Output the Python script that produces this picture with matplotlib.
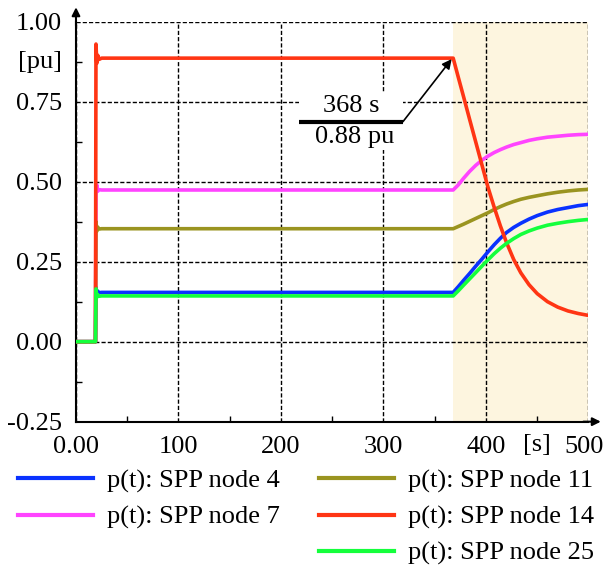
import matplotlib
matplotlib.use("Agg")
import matplotlib.pyplot as plt
from matplotlib.lines import Line2D
from matplotlib.patches import Rectangle
from matplotlib.transforms import ScaledTranslation

plt.rcParams['font.family'] = ['Liberation Serif', 'DejaVu Serif']
plt.rcParams['font.size'] = 19

# time points [s]: start-up transient, then the run-down after 368 s
t_start = [0, 19, 19.5, 20.3, 21.2, 22.5, 25]
t_ramp = [368, 373, 378, 384, 390, 396, 402, 408, 414, 420,
          427, 434, 442, 450, 460, 470, 480, 490, 500]
time = t_start + t_ramp

p_node4 = [0, 0, 0.17, 0.15, 0.158, 0.153, 0.154,
           0.154, 0.172, 0.191, 0.213, 0.236, 0.258, 0.281, 0.303, 0.323, 0.341,
           0.357, 0.370, 0.383, 0.394, 0.405, 0.413, 0.419, 0.425, 0.429]
p_node7 = [0, 0, 0.46, 0.49, 0.47, 0.475, 0.474,
           0.474, 0.490, 0.510, 0.532, 0.551, 0.567, 0.580, 0.591, 0.600, 0.608,
           0.616, 0.622, 0.629, 0.634, 0.639, 0.642, 0.645, 0.647, 0.648]
p_node11 = [0, 0, 0.375, 0.345, 0.358, 0.352, 0.353,
            0.353, 0.360, 0.367, 0.376, 0.385, 0.394, 0.403, 0.413, 0.422, 0.430,
            0.438, 0.445, 0.451, 0.456, 0.462, 0.467, 0.471, 0.474, 0.476]
p_node14 = [0, 0, 0.93, 0.87, 0.895, 0.882, 0.886,
            0.886, 0.826, 0.767, 0.695, 0.624, 0.553, 0.482, 0.420, 0.362, 0.310,
            0.257, 0.215, 0.178, 0.150, 0.125, 0.108, 0.096, 0.088, 0.082]
p_node25 = [0, 0, 0.165, 0.138, 0.147, 0.142, 0.143,
            0.143, 0.159, 0.176, 0.196, 0.216, 0.236, 0.256, 0.275, 0.292, 0.307,
            0.322, 0.335, 0.346, 0.355, 0.364, 0.370, 0.375, 0.379, 0.382]

labels = ['p(t): SPP node 4', 'p(t): SPP node 7', 'p(t): SPP node 11',
          'p(t): SPP node 14', 'p(t): SPP node 25']
colors = ['#0a32ff', '#ff44ff', '#9a9420', '#ff3514', '#14ff3c']
series = [p_node4, p_node7, p_node11, p_node14, p_node25]

fig = plt.figure(figsize=(6.06, 5.67), dpi=100)
ax = fig.add_axes([0.1254, 0.2563, 0.8457, 0.7055])

ax.axvspan(368, 500, color='#fdf5df', zorder=0.2, lw=0)

for vals, c in zip(series, colors):
    ax.plot(time, vals, color=c, lw=2.6, zorder=3)

ax.set_xlim(0, 500)
ax.set_ylim(-0.25, 1.0)

ax.set_xticks([0, 100, 200, 300, 400, 500])
ax.set_xticklabels(['0.00', '100', '200', '300', '400', '500'])
ax.set_yticks([-0.25, 0, 0.25, 0.5, 0.75, 1.0])
ax.set_yticklabels(['-0.25', '0.00', '0.25', '0.50', '0.75', '1.00'])
ax.set_xticks([50, 150, 250, 350, 450], minor=True)
ax.set_yticks([-0.125, 0.125, 0.375, 0.625, 0.875], minor=True)
ax.tick_params(which='both', direction='in', color='k')
ax.tick_params(which='major', length=0, pad=10)
ax.tick_params(which='minor', length=4, width=1)

# keep the last x label inside the picture
last = ax.get_xticklabels()[-1]
last.set_transform(last.get_transform() + ScaledTranslation(-3 / 72, 0, fig.dpi_scale_trans))

ax.grid(True, which='major', color='k', lw=1.0, ls=(0, (3, 1.5)), zorder=0.5)
ax.set_axisbelow(True)

ax.spines['top'].set_visible(False)
ax.spines['right'].set_visible(False)
for s in ['left', 'bottom']:
    ax.spines[s].set_linewidth(1.5)

# axis arrows
ax.annotate('', xy=(0, 1.036), xytext=(0, 0.99), xycoords='axes fraction',
            arrowprops=dict(arrowstyle='-|>', color='k', lw=1.5, shrinkA=0, shrinkB=0,
                            mutation_scale=12))
ax.annotate('', xy=(1.024, 0), xytext=(0.99, 0), xycoords='axes fraction',
            arrowprops=dict(arrowstyle='-|>', color='k', lw=1.5, shrinkA=0, shrinkB=0,
                            mutation_scale=12))

# unit labels
ax.text(-0.027, 0.875, '[pu]', transform=ax.get_yaxis_transform(), ha='right', va='center')
ax.text(450, -0.031, '[s]', transform=ax.get_xaxis_transform(), ha='center', va='top')

# annotation of the switching point
ax.add_patch(Rectangle((218, 0.60), 101, 0.18, facecolor='white', edgecolor='none', zorder=1))
ax.plot([218, 319], [0.6875, 0.6875], color='k', lw=3, zorder=4, solid_capstyle='butt')
ax.annotate('', xy=(366.5, 0.883), xytext=(319, 0.6875),
            arrowprops=dict(arrowstyle='-|>', color='k', lw=1.2, shrinkA=0, shrinkB=0,
                            mutation_scale=14), zorder=4)
ax.text(269, 0.735, '368 s', ha='center', va='center', zorder=4)
ax.text(272, 0.640, '0.88 pu', ha='center', va='center', zorder=4)

handles = [Line2D([], [], color=c, lw=3) for c in colors]
blank = Line2D([], [], color='none')
leg_handles = handles[:2] + [blank] + handles[2:]
leg_labels = labels[:2] + [''] + labels[2:]
fig.legend(leg_handles, leg_labels, loc='upper left', ncol=2, frameon=False,
           bbox_to_anchor=(0.0297, 1 - 469 / 567), borderaxespad=0, borderpad=0,
           handlelength=2.84, handletextpad=0.53, labelspacing=0.47, columnspacing=1.5)

fig.savefig('out.png', dpi=100)
